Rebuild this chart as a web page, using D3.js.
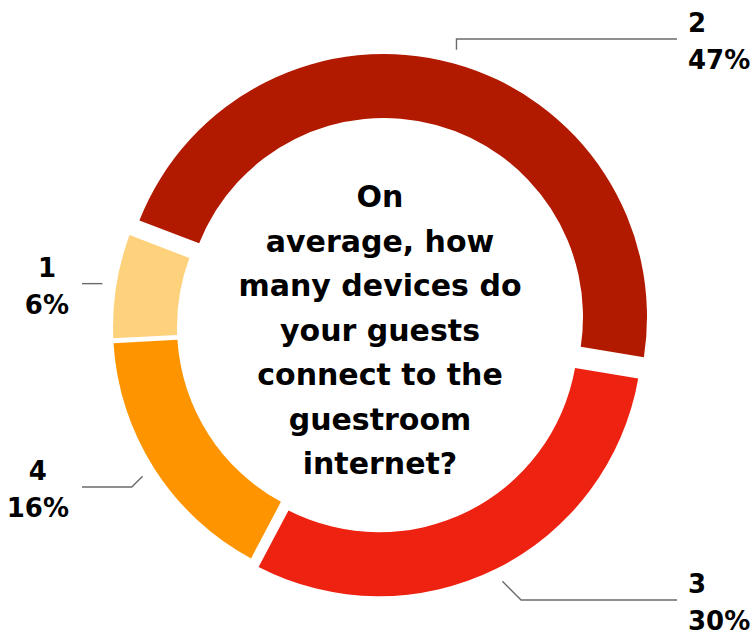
<!DOCTYPE html>
<html>
<head>
<meta charset="utf-8">
<script src="https://cdn.jsdelivr.net/npm/d3@7"></script>
<style>
  html, body { margin: 0; padding: 0; background: #ffffff; }
  svg { display: block; font-family: "DejaVu Sans", "Liberation Sans", Arial, sans-serif; font-weight: bold; }
</style>
</head>
<body>
<svg id="chart" width="755" height="635"></svg>
<script>
// Survey answers: number of devices per guest and share of respondents (%)
const categories = ["1", "2", "3", "4"];
const shares = [6, 47, 30, 16];
const sliceColors = ["#fed27c", "#b21a00", "#ee2211", "#fe9500"];
// Clockwise drawing order, starting at the upper left
const drawOrder = ["2", "3", "4", "1"];
// Question shown in the hole of the donut
const questionLines = ["On", "average, how", "many devices do", "your guests", "connect to the", "guestroom", "internet?"];

const width = 755, height = 635;
const cx = 376, cy = 327;
const outerR = 263, innerR = 199;
const deg = Math.PI / 180;

// Slices pulled away from the centre: distance (px) and direction (deg, clockwise from 12 o'clock)
const explode = { "2": { dist: 12.8, dir: 38.7 }, "3": { dist: 7, dir: null } };
// Vertical position of each label row
const labelRowY = { "2": 39, "3": 600, "4": 487 };

const data = categories.map((c, i) => ({ cat: c, value: shares[i], color: sliceColors[i] }));

const svg = d3.select("#chart");

const pie = d3.pie()
  .sort((a, b) => drawOrder.indexOf(a.cat) - drawOrder.indexOf(b.cat))
  .value(d => d.value)
  .startAngle(-69 * deg)
  .endAngle(291 * deg)
  .padAngle(0.05);

const arc = d3.arc()
  .innerRadius(innerR)
  .outerRadius(outerR)
  .padRadius(100);

const arcs = pie(data);

function offsetOf(a) {
  const e = explode[a.data.cat];
  if (!e) return [0, 0];
  const ang = e.dir === null ? (a.startAngle + a.endAngle) / 2 : e.dir * deg;
  return [e.dist * Math.sin(ang), -e.dist * Math.cos(ang)];
}

const g = svg.append("g").attr("transform", `translate(${cx},${cy})`);

g.selectAll("path.slice")
  .data(arcs)
  .join("path")
  .attr("class", "slice")
  .attr("d", arc)
  .attr("fill", d => d.data.color)
  .attr("transform", d => { const [dx, dy] = offsetOf(d); return `translate(${dx},${dy})`; });

// Leader lines and labels
const rightEnd = 677, leftEnd = 82;
const labelG = svg.append("g");

arcs.forEach(a => {
  const mid = (a.startAngle + a.endAngle) / 2;
  const [ox, oy] = offsetOf(a);
  const rr = outerR + 14;
  const sx = cx + ox + rr * Math.sin(mid);
  const sy = cy + oy - rr * Math.cos(mid);
  const side = Math.sin(mid) >= 0 ? 1 : -1;
  const rowY = labelRowY[a.data.cat] !== undefined ? labelRowY[a.data.cat] : sy;
  const dy = rowY - sy;
  const ex = sy > cy ? sx + side * Math.abs(dy) : sx;
  const endX = side > 0 ? rightEnd : leftEnd;

  labelG.append("path")
    .attr("d", d3.line()([[sx, sy], [ex, rowY], [endX, rowY]]))
    .attr("fill", "none")
    .attr("stroke", "#6b6b6b")
    .attr("stroke-width", 1.4);

  const t = labelG.append("text")
    .attr("font-size", 26)
    .attr("fill", "#000");
  t.append("tspan").attr("y", rowY - 7).text(a.data.cat);
  t.append("tspan").attr("y", rowY + 30).text(a.data.value + "%");

  if (side > 0) {
    t.attr("text-anchor", "start");
    t.selectAll("tspan").attr("x", endX + 11);
  } else {
    const w = d3.max(t.selectAll("tspan").nodes(), n => n.getComputedTextLength());
    t.attr("text-anchor", "middle");
    t.selectAll("tspan").attr("x", endX - 13 - w / 2);
  }
});

// Question in the centre
svg.append("text")
  .attr("text-anchor", "middle")
  .attr("font-size", 30)
  .attr("fill", "#000")
  .selectAll("tspan")
  .data(questionLines)
  .join("tspan")
  .attr("x", 380)
  .attr("y", (d, i) => 207 + i * 44.5)
  .text(d => d);
</script>
</body>
</html>
